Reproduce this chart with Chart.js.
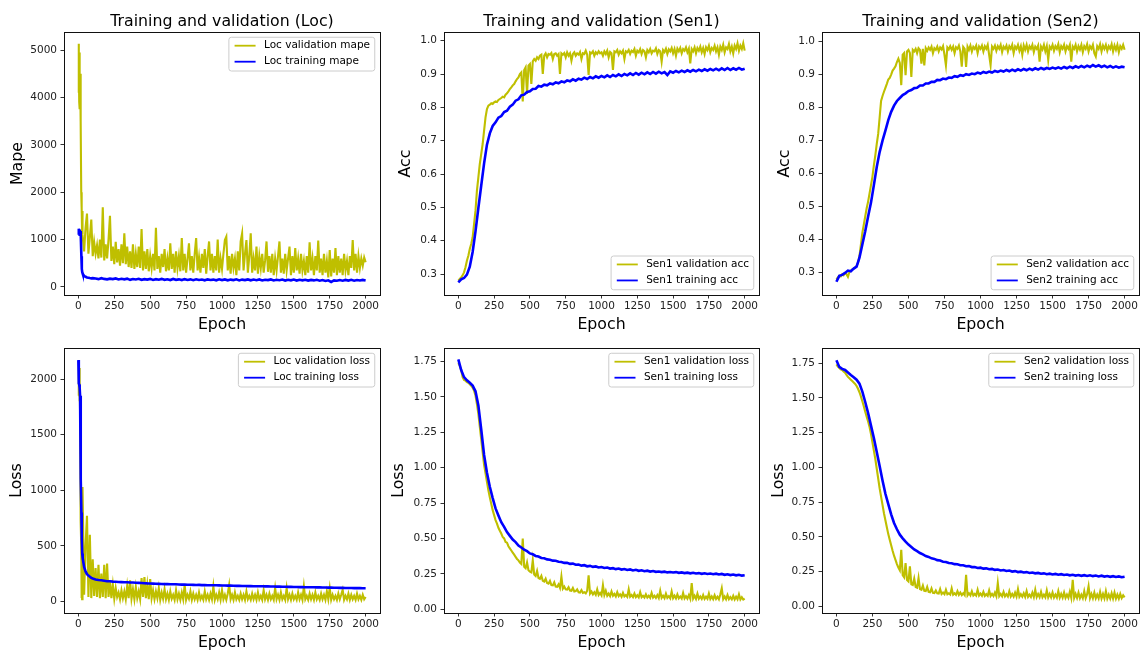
<!DOCTYPE html>
<html>
<head>
<meta charset="utf-8">
<script src="https://cdn.jsdelivr.net/npm/chart.js@4.4.0/dist/chart.umd.min.js"></script>
<style>
  html, body { margin: 0; padding: 0; background: #fff; }
  body { width: 1144px; height: 652px; position: relative; overflow: hidden; }
  canvas { position: absolute; }
</style>
</head>
<body>
<script>
// ---------- tick values ----------
const epochTicks   = [0, 250, 500, 750, 1000, 1250, 1500, 1750, 2000];
const locMapeTicks = [0, 1000, 2000, 3000, 4000, 5000];
const accTicks     = [0.3, 0.4, 0.5, 0.6, 0.7, 0.8, 0.9, 1.0];
const locLossTicks = [0, 500, 1000, 1500, 2000];
const lossTicks    = [0, 0.25, 0.5, 0.75, 1.0, 1.25, 1.5, 1.75];

// ---------- epochs at which each history was sampled ----------
function range(a, b, s) { const r = []; for (let v = a; v <= b; v += s) r.push(v); return r; }
const locValEpochs   = [0, 2, 4, 6, 8, 10, 12, 14, 16, 18, 20, 22, 24, 26, 28].concat(range(30, 2000, 10));
const locTrainEpochs = [0, 3, 6, 9, 12, 15, 18, 21, 24, 27, 30, 40, 50, 60, 70, 80, 90, 100].concat(range(120, 2000, 20));
const senValEpochs   = range(0, 2000, 10);
const senTrainEpochs = range(0, 2000, 20);

// ---------- Loc: mape ----------
const locValMape = [
  4100, 5130, 4700, 3900, 4950, 3750, 4500, 3600, 4500, 3500, 2000, 1700, 1650, 1150, 1600,
  1100, 750, 1250, 1550, 700, 1050, 1420, 650, 950, 700,
  880, 600, 1000, 620, 1680, 560, 900, 600, 1000, 1500,
  550, 850, 480, 950, 520, 800, 450, 900, 500, 1130,
  480, 850, 420, 750, 400, 900, 380, 700, 420, 850,
  400, 1220, 350, 750, 380, 800, 330, 650, 400, 700,
  350, 1250, 380, 650, 300, 700, 420, 800, 330, 600,
  350, 920, 380, 700, 300, 750, 400, 650, 330, 1030,
  350, 700, 300, 600, 920, 350, 650, 300, 700, 1030,
  350, 620, 300, 700, 400, 800, 280, 650, 960, 350,
  700, 300, 650, 350, 1000, 300, 600, 380, 700, 990,
  1060, 350, 650, 280, 700, 400, 600, 250, 750, 350,
  960, 1130, 350, 700, 990, 300, 650, 1130, 300, 600,
  350, 850, 280, 650, 400, 700, 300, 560, 960, 320,
  650, 300, 700, 250, 600, 350, 650, 960, 300, 600,
  280, 700, 350, 600, 850, 250, 650, 300, 820, 350,
  600, 280, 700, 350, 550, 250, 650, 300, 940, 350,
  600, 250, 650, 350, 980, 300, 600, 250, 700, 300,
  550, 200, 780, 220, 600, 300, 820, 250, 650, 300,
  600, 250, 700, 350, 550, 250, 650, 400, 990, 350,
  700, 300, 650, 400, 600, 450, 620, 520
];
const locTrainMape = [
  1100, 1230, 1150, 1210, 1140, 1180, 1100, 650, 380, 310, 280, 230, 215, 200, 195, 188, 182, 185,
  180, 165, 185, 170, 160, 175, 165, 180, 158, 172,
  160, 175, 150, 168, 158, 172, 150, 165, 155, 170,
  148, 165, 152, 170, 150, 162, 145, 168, 150, 160,
  145, 165, 148, 160, 142, 162, 148, 158, 140, 160,
  148, 155, 140, 160, 145, 158, 140, 155, 145, 160,
  138, 155, 145, 158, 140, 155, 142, 158, 138, 152,
  145, 158, 138, 150, 142, 155, 135, 150, 140, 155,
  135, 150, 140, 152, 135, 148, 138, 150, 132, 145,
  125, 140, 105, 138, 130, 145, 132, 148, 135, 150,
  132, 145, 135, 148, 135
];

// ---------- Loc: loss ----------
const locValLoss = [
  1850, 2160, 1950, 2100, 1800, 1950, 1700, 1500, 1000, 720, 500, 30, 450, 20, 300,
  1030, 60, 500, 770, 40, 600, 30, 380, 50, 300,
  40, 330, 30, 250, 40, 330, 30, 340, 40, 180,
  30, 150, 25, 120, 40, 80, 20, 100, 30, 90,
  20, 140, 30, 190, 25, 110, 20, 130, 30, 90,
  20, 210, 40, 220, 30, 150, 20, 200, 30, 100,
  20, 90, 30, 120, 15, 80, 25, 110, 20, 70,
  15, 90, 25, 60, 15, 100, 20, 70, 15, 80,
  20, 150, 15, 60, 25, 90, 15, 70, 20, 60,
  15, 80, 20, 50, 15, 90, 20, 60, 15, 70,
  20, 135, 15, 60, 20, 80, 15, 100, 20, 60,
  15, 70, 150, 20, 60, 15, 80, 20, 50, 15,
  70, 20, 60, 15, 90, 20, 50, 15, 70, 20,
  60, 15, 80, 20, 50, 15, 100, 20, 60, 15,
  70, 20, 50, 15, 120, 20, 60, 15, 80, 20,
  50, 15, 120, 20, 60, 15, 70, 20, 50, 15,
  80, 20, 60, 15, 135, 20, 50, 15, 70, 20,
  60, 15, 80, 20, 50, 15, 70, 20, 60, 15,
  90, 20, 120, 15, 60, 20, 50, 15, 70, 20,
  60, 105, 15, 50, 20, 70, 15, 60, 20, 50,
  15, 70, 20, 50, 15, 60, 20, 40
];
const locTrainLoss = [
  2170, 1960, 1950, 1920, 1850, 1500, 1100, 800, 560, 430, 390, 310, 270, 245, 232, 222, 212, 206,
  198, 193, 190, 186, 182, 181, 178, 177, 175, 174,
  172, 172, 170, 170, 168, 167, 166, 164, 162, 161,
  160, 159, 158, 157, 156, 156, 155, 154, 154, 152,
  151, 152, 150, 150, 149, 148, 149, 147, 147, 146,
  146, 145, 145, 144, 143, 143, 142, 142, 141, 140,
  140, 139, 139, 138, 138, 137, 137, 136, 136, 135,
  135, 134, 134, 133, 133, 132, 132, 131, 131, 130,
  130, 129, 129, 128, 128, 127, 127, 126, 126, 125,
  125, 124, 124, 123, 123, 122, 122, 121, 121, 121,
  120, 120, 120, 119, 119
];

// ---------- Sen1: accuracy ----------
const sen1ValAcc = [
  0.280, 0.285, 0.290, 0.296, 0.305, 0.320, 0.340, 0.355, 0.375, 0.390,
  0.410, 0.450, 0.490, 0.550, 0.590, 0.630, 0.660, 0.690, 0.730, 0.770,
  0.795, 0.805, 0.808, 0.812, 0.810, 0.815, 0.818, 0.816, 0.822, 0.825,
  0.828, 0.832, 0.830, 0.838, 0.842, 0.848, 0.855, 0.860, 0.866, 0.870,
  0.878, 0.885, 0.890, 0.900, 0.905, 0.818, 0.912, 0.920, 0.840, 0.925,
  0.930, 0.870, 0.938, 0.945, 0.940, 0.950, 0.945, 0.955, 0.958, 0.900,
  0.955, 0.962, 0.950, 0.960, 0.958, 0.963, 0.945, 0.960, 0.962, 0.955,
  0.960, 0.900, 0.962, 0.958, 0.963, 0.950, 0.965, 0.955, 0.962, 0.940,
  0.960, 0.965, 0.955, 0.962, 0.958, 0.966, 0.945, 0.962, 0.960, 0.970,
  0.958, 0.897, 0.965, 0.962, 0.968, 0.955, 0.965, 0.960, 0.968, 0.962,
  0.965, 0.955, 0.968, 0.960, 0.970, 0.950, 0.966, 0.962, 0.912, 0.968,
  0.965, 0.972, 0.958, 0.968, 0.962, 0.970, 0.945, 0.968, 0.965, 0.972,
  0.960, 0.970, 0.966, 0.975, 0.955, 0.970, 0.965, 0.975, 0.960, 0.972,
  0.968, 0.950, 0.972, 0.965, 0.975, 0.962, 0.970, 0.968, 0.977, 0.960,
  0.972, 0.968, 0.937, 0.972, 0.966, 0.976, 0.960, 0.974, 0.968, 0.978,
  0.962, 0.975, 0.955, 0.976, 0.968, 0.978, 0.962, 0.975, 0.970, 0.980,
  0.965, 0.976, 0.932, 0.975, 0.968, 0.980, 0.962, 0.978, 0.970, 0.982,
  0.965, 0.978, 0.960, 0.980, 0.972, 0.985, 0.965, 0.978, 0.972, 0.985,
  0.968, 0.980, 0.958, 0.982, 0.972, 0.988, 0.965, 0.980, 0.975, 0.990,
  0.968, 0.982, 0.962, 0.985, 0.975, 0.992, 0.970, 0.985, 0.975, 0.992,
  0.970
];
const sen1TrainAcc = [
  0.275, 0.284, 0.288, 0.298, 0.322, 0.366, 0.428, 0.498, 0.565, 0.632,
  0.688, 0.722, 0.744, 0.755, 0.769, 0.774, 0.786, 0.790, 0.802, 0.808,
  0.820, 0.824, 0.836, 0.838, 0.846, 0.848, 0.855, 0.856, 0.864, 0.862,
  0.868, 0.866, 0.872, 0.869, 0.875, 0.872, 0.878, 0.875, 0.881, 0.878,
  0.884, 0.880, 0.886, 0.883, 0.889, 0.885, 0.891, 0.887, 0.893, 0.889,
  0.894, 0.890, 0.896, 0.891, 0.897, 0.893, 0.899, 0.894, 0.900, 0.896,
  0.902, 0.897, 0.903, 0.898, 0.904, 0.899, 0.905, 0.900, 0.906, 0.901,
  0.907, 0.902, 0.906, 0.897, 0.908, 0.904, 0.909, 0.905, 0.910, 0.906,
  0.911, 0.907, 0.912, 0.908, 0.913, 0.909, 0.914, 0.910, 0.915, 0.911,
  0.916, 0.911, 0.917, 0.912, 0.918, 0.912, 0.917, 0.913, 0.918, 0.913,
  0.916
];

// ---------- Sen2: accuracy ----------
const sen2ValAcc = [
  0.280, 0.285, 0.290, 0.288, 0.295, 0.292, 0.298, 0.295, 0.287, 0.302,
  0.305, 0.310, 0.312, 0.315, 0.320, 0.330, 0.350, 0.385, 0.420, 0.445,
  0.470, 0.495, 0.515, 0.540, 0.565, 0.590, 0.625, 0.655, 0.690, 0.720,
  0.770, 0.820, 0.835, 0.848, 0.860, 0.872, 0.885, 0.890, 0.900, 0.912,
  0.918, 0.925, 0.938, 0.948, 0.935, 0.868, 0.960, 0.965, 0.898, 0.970,
  0.975, 0.965, 0.893, 0.975, 0.970, 0.978, 0.965, 0.980, 0.975, 0.933,
  0.978, 0.928, 0.980, 0.972, 0.982, 0.975, 0.985, 0.965, 0.980, 0.975,
  0.985, 0.970, 0.982, 0.976, 0.986, 0.960, 0.928, 0.982, 0.976, 0.986,
  0.975, 0.985, 0.965, 0.983, 0.978, 0.988, 0.970, 0.924, 0.984, 0.978,
  0.923, 0.985, 0.975, 0.988, 0.970, 0.984, 0.978, 0.988, 0.965, 0.985,
  0.978, 0.988, 0.970, 0.986, 0.978, 0.990, 0.960, 0.929, 0.985, 0.978,
  0.988, 0.972, 0.986, 0.978, 0.990, 0.968, 0.985, 0.978, 0.988, 0.970,
  0.986, 0.978, 0.990, 0.965, 0.985, 0.978, 0.990, 0.972, 0.986, 0.960,
  0.988, 0.975, 0.990, 0.970, 0.986, 0.978, 0.990, 0.968, 0.985, 0.978,
  0.988, 0.939, 0.985, 0.976, 0.990, 0.970, 0.986, 0.945, 0.985, 0.978,
  0.990, 0.972, 0.986, 0.978, 0.992, 0.968, 0.986, 0.978, 0.990, 0.970,
  0.986, 0.978, 0.990, 0.939, 0.985, 0.978, 0.990, 0.970, 0.986, 0.976,
  0.990, 0.968, 0.986, 0.978, 0.992, 0.970, 0.986, 0.978, 0.990, 0.965,
  0.955, 0.986, 0.978, 0.992, 0.970, 0.988, 0.978, 0.990, 0.972, 0.986,
  0.978, 0.992, 0.970, 0.988, 0.975, 0.990, 0.968, 0.986, 0.978, 0.990,
  0.975
];
const sen2TrainAcc = [
  0.272, 0.290, 0.293, 0.299, 0.306, 0.304, 0.312, 0.318, 0.345, 0.385,
  0.425, 0.470, 0.512, 0.565, 0.620, 0.665, 0.700, 0.730, 0.762, 0.787,
  0.806, 0.820, 0.829, 0.838, 0.843, 0.850, 0.853, 0.859, 0.860, 0.867,
  0.867, 0.873, 0.873, 0.878, 0.878, 0.884, 0.883, 0.888, 0.886, 0.891,
  0.890, 0.895, 0.893, 0.898, 0.896, 0.901, 0.899, 0.903, 0.901, 0.906,
  0.903, 0.908, 0.905, 0.909, 0.906, 0.911, 0.908, 0.912, 0.909, 0.914,
  0.910, 0.915, 0.911, 0.916, 0.912, 0.917, 0.913, 0.918, 0.914, 0.919,
  0.915, 0.920, 0.916, 0.920, 0.917, 0.921, 0.918, 0.922, 0.918, 0.923,
  0.919, 0.924, 0.920, 0.925, 0.921, 0.926, 0.922, 0.927, 0.923, 0.929,
  0.924, 0.928, 0.923, 0.927, 0.922, 0.926, 0.921, 0.925, 0.921, 0.924,
  0.922
];

// ---------- Sen1: loss ----------
const sen1ValLoss = [
  1.740, 1.720, 1.690, 1.640, 1.620, 1.615, 1.605, 1.600, 1.590, 1.580,
  1.565, 1.545, 1.510, 1.450, 1.380, 1.290, 1.200, 1.110, 1.020, 0.960,
  0.900, 0.840, 0.790, 0.745, 0.700, 0.665, 0.630, 0.605, 0.575, 0.555,
  0.535, 0.510, 0.500, 0.475, 0.470, 0.445, 0.430, 0.415, 0.400, 0.385,
  0.370, 0.355, 0.345, 0.330, 0.320, 0.500, 0.300, 0.290, 0.330, 0.275,
  0.265, 0.260, 0.345, 0.245, 0.235, 0.270, 0.220, 0.215, 0.235, 0.200,
  0.195, 0.215, 0.185, 0.180, 0.200, 0.170, 0.168, 0.190, 0.160, 0.158,
  0.175, 0.150, 0.230, 0.145, 0.160, 0.140, 0.138, 0.155, 0.132, 0.130,
  0.150, 0.125, 0.128, 0.140, 0.120, 0.118, 0.135, 0.115, 0.120, 0.112,
  0.130, 0.240, 0.110, 0.125, 0.105, 0.120, 0.102, 0.140, 0.100, 0.115,
  0.098, 0.170, 0.100, 0.130, 0.095, 0.110, 0.092, 0.125, 0.095, 0.108,
  0.090, 0.120, 0.092, 0.105, 0.088, 0.115, 0.090, 0.100, 0.087, 0.140,
  0.088, 0.100, 0.086, 0.110, 0.085, 0.098, 0.084, 0.120, 0.085, 0.095,
  0.083, 0.105, 0.082, 0.095, 0.080, 0.115, 0.082, 0.095, 0.080, 0.100,
  0.079, 0.130, 0.080, 0.095, 0.078, 0.110, 0.080, 0.092, 0.077, 0.125,
  0.078, 0.095, 0.076, 0.105, 0.077, 0.090, 0.075, 0.115, 0.076, 0.092,
  0.075, 0.100, 0.074, 0.184, 0.075, 0.095, 0.073, 0.110, 0.074, 0.090,
  0.073, 0.100, 0.072, 0.088, 0.073, 0.110, 0.072, 0.090, 0.071, 0.098,
  0.072, 0.088, 0.070, 0.105, 0.148, 0.071, 0.090, 0.070, 0.100, 0.071,
  0.085, 0.070, 0.095, 0.069, 0.088, 0.070, 0.105, 0.069, 0.085, 0.068,
  0.075
];
const sen1TrainLoss = [
  1.765, 1.690, 1.640, 1.618, 1.600, 1.580, 1.540, 1.440, 1.270, 1.090,
  0.965, 0.865, 0.785, 0.712, 0.662, 0.615, 0.582, 0.545, 0.518, 0.492,
  0.474, 0.450, 0.436, 0.420, 0.410, 0.394, 0.388, 0.376, 0.372, 0.362,
  0.360, 0.352, 0.350, 0.343, 0.342, 0.335, 0.334, 0.327, 0.328, 0.320,
  0.322, 0.314, 0.316, 0.308, 0.311, 0.303, 0.306, 0.299, 0.302, 0.295,
  0.298, 0.291, 0.294, 0.287, 0.290, 0.283, 0.287, 0.280, 0.284, 0.277,
  0.281, 0.274, 0.278, 0.271, 0.275, 0.268, 0.272, 0.266, 0.270, 0.264,
  0.266, 0.262, 0.265, 0.260, 0.263, 0.259, 0.262, 0.257, 0.260, 0.255,
  0.258, 0.253, 0.257, 0.252, 0.255, 0.250, 0.254, 0.249, 0.252, 0.247,
  0.251, 0.245, 0.249, 0.243, 0.247, 0.241, 0.245, 0.239, 0.243, 0.237,
  0.240
];

// ---------- Sen2: loss ----------
const sen2ValLoss = [
  1.740, 1.725, 1.715, 1.705, 1.700, 1.690, 1.680, 1.665, 1.650, 1.640,
  1.630, 1.620, 1.610, 1.600, 1.585, 1.565, 1.540, 1.510, 1.475, 1.440,
  1.400, 1.365, 1.330, 1.290, 1.240, 1.180, 1.120, 1.060, 0.990, 0.920,
  0.850, 0.790, 0.730, 0.670, 0.620, 0.570, 0.520, 0.480, 0.440, 0.400,
  0.365, 0.335, 0.305, 0.280, 0.260, 0.408, 0.225, 0.210, 0.312, 0.190,
  0.180, 0.288, 0.160, 0.155, 0.200, 0.140, 0.135, 0.204, 0.125, 0.120,
  0.150, 0.112, 0.110, 0.140, 0.105, 0.102, 0.130, 0.098, 0.096, 0.115,
  0.094, 0.092, 0.125, 0.090, 0.100, 0.088, 0.120, 0.087, 0.095, 0.086,
  0.130, 0.085, 0.095, 0.084, 0.110, 0.083, 0.100, 0.082, 0.095, 0.081,
  0.228, 0.080, 0.095, 0.080, 0.110, 0.079, 0.090, 0.078, 0.120, 0.078,
  0.092, 0.077, 0.105, 0.076, 0.088, 0.076, 0.115, 0.075, 0.090, 0.075,
  0.100, 0.074, 0.168, 0.074, 0.090, 0.073, 0.105, 0.073, 0.088, 0.072,
  0.110, 0.072, 0.090, 0.071, 0.100, 0.071, 0.125, 0.070, 0.088, 0.070,
  0.095, 0.069, 0.110, 0.069, 0.085, 0.068, 0.100, 0.068, 0.120, 0.067,
  0.090, 0.067, 0.105, 0.066, 0.085, 0.066, 0.115, 0.065, 0.090, 0.065,
  0.100, 0.064, 0.085, 0.064, 0.110, 0.063, 0.090, 0.063, 0.100, 0.062,
  0.085, 0.062, 0.105, 0.062, 0.192, 0.061, 0.090, 0.061, 0.100, 0.060,
  0.085, 0.060, 0.110, 0.060, 0.088, 0.145, 0.060, 0.090, 0.059, 0.100,
  0.059, 0.085, 0.058, 0.105, 0.058, 0.090, 0.058, 0.110, 0.057, 0.085,
  0.057, 0.095, 0.057, 0.100, 0.056, 0.085, 0.056, 0.090, 0.060, 0.080,
  0.065
];
const sen2TrainLoss = [
  1.770, 1.722, 1.708, 1.700, 1.682, 1.664, 1.648, 1.630, 1.602, 1.545,
  1.470, 1.390, 1.300, 1.210, 1.110, 1.010, 0.905, 0.810, 0.735, 0.662,
  0.600, 0.555, 0.516, 0.490, 0.466, 0.445, 0.428, 0.410, 0.398, 0.384,
  0.374, 0.362, 0.356, 0.346, 0.342, 0.333, 0.330, 0.322, 0.320, 0.312,
  0.311, 0.304, 0.303, 0.296, 0.296, 0.289, 0.290, 0.283, 0.284, 0.277,
  0.279, 0.272, 0.274, 0.268, 0.270, 0.263, 0.266, 0.259, 0.262, 0.255,
  0.258, 0.251, 0.254, 0.247, 0.250, 0.244, 0.247, 0.241, 0.244, 0.238,
  0.241, 0.235, 0.238, 0.232, 0.236, 0.230, 0.234, 0.228, 0.232, 0.226,
  0.230, 0.224, 0.228, 0.222, 0.226, 0.220, 0.225, 0.219, 0.224, 0.218,
  0.222, 0.216, 0.221, 0.215, 0.219, 0.213, 0.218, 0.212, 0.216, 0.210,
  0.214
];

// ---------- drawing ----------
const FONT = "'DejaVu Sans', 'Liberation Sans', sans-serif";
const VAL_COLOR = '#bfbf00';
const TRAIN_COLOR = '#0000ff';

Chart.defaults.font.family = FONT;
Chart.defaults.color = '#000';

function pts(epochs, values) { return values.map((v, i) => ({ x: epochs[i], y: v })); }

// axes frame, panel title and in-axes legend (matplotlib style)
const decor = {
  id: 'decor',
  afterDatasetsDraw(chart, args, o) {
    const { ctx, chartArea: a } = chart;
    ctx.save();
    ctx.strokeStyle = '#111';
    ctx.lineWidth = 1;
    const L = Math.floor(a.left) + 0.5, R = Math.floor(a.right) + 0.5;
    const T = Math.floor(a.top) + 0.5, B = Math.floor(a.bottom) + 0.5;
    ctx.strokeRect(L, T, R - L, B - T);

    if (o.title) {
      ctx.font = '15.75px ' + FONT;
      ctx.fillStyle = '#000';
      ctx.textAlign = 'center';
      ctx.textBaseline = 'alphabetic';
      ctx.fillText(o.title, (a.left + a.right) / 2, 26);
    }

    const fs = 10.5;
    ctx.font = fs + 'px ' + FONT;
    const items = chart.data.datasets.map(d => ({ label: d.label, color: d.borderColor }));
    const tw = Math.max(...items.map(it => ctx.measureText(it.label).width));
    const w = 5.7 + 21 + 8.4 + tw + 4.75, h = 33.75;
    const x = a.right - 5.25 - w;
    const y = o.legend === 'lower right' ? a.bottom - 5.25 - h : a.top + 5.25;
    const r = 2.5;
    ctx.beginPath();
    ctx.moveTo(x + r, y);
    ctx.lineTo(x + w - r, y); ctx.quadraticCurveTo(x + w, y, x + w, y + r);
    ctx.lineTo(x + w, y + h - r); ctx.quadraticCurveTo(x + w, y + h, x + w - r, y + h);
    ctx.lineTo(x + r, y + h); ctx.quadraticCurveTo(x, y + h, x, y + h - r);
    ctx.lineTo(x, y + r); ctx.quadraticCurveTo(x, y, x + r, y);
    ctx.closePath();
    ctx.fillStyle = 'rgba(255,255,255,0.8)';
    ctx.fill();
    ctx.strokeStyle = '#cccccc';
    ctx.lineWidth = 1;
    ctx.stroke();

    items.forEach((it, i) => {
      const cy = y + 8.45 + i * 16;
      ctx.beginPath();
      ctx.moveTo(x + 5.7, cy);
      ctx.lineTo(x + 26.7, cy);
      ctx.strokeStyle = it.color;
      ctx.lineWidth = 1.8;
      ctx.stroke();
      ctx.fillStyle = '#000';
      ctx.textAlign = 'left';
      ctx.textBaseline = 'middle';
      ctx.fillText(it.label, x + 35.1, cy);
    });
    ctx.restore();
  }
};

function panel(p) {
  const cv = document.createElement('canvas');
  cv.width = p.w; cv.height = p.h;
  cv.style.left = p.left + 'px'; cv.style.top = p.top + 'px';
  document.body.appendChild(cv);

  const areaL = p.area[0] - p.left, areaR = p.area[1] - p.left;
  const areaT = p.area[2] - p.top, areaB = p.area[3] - p.top;
  const tickFont = { family: FONT, size: 10.5 };
  const titleFont = { family: FONT, size: 15.75 };
  const grid = { drawOnChartArea: false, drawTicks: true, tickLength: 3.5, color: '#000', lineWidth: 0.8 };

  new Chart(cv, {
    type: 'line',
    data: {
      datasets: [
        { label: p.valLabel, data: pts(p.valEpochs, p.val), borderColor: VAL_COLOR, backgroundColor: VAL_COLOR,
          borderWidth: 2.1, pointRadius: 0, tension: 0, fill: false, order: 1 },
        { label: p.trainLabel, data: pts(p.trainEpochs, p.train), borderColor: TRAIN_COLOR, backgroundColor: TRAIN_COLOR,
          borderWidth: 2.6, pointRadius: 0, tension: 0, fill: false, order: 0 }
      ]
    },
    options: {
      responsive: false,
      animation: false,
      devicePixelRatio: 1,
      events: [],
      layout: { padding: { left: 0, right: p.w - areaR, top: areaT, bottom: 0 } },
      plugins: {
        legend: { display: false },
        tooltip: { enabled: false },
        title: { display: false },
        decor: { title: p.title, legend: p.legend }
      },
      scales: {
        x: {
          type: 'linear', min: -100, max: 2100,
          afterFit(s) { s.height = p.h - areaB; },
          afterBuildTicks(s) { s.ticks = epochTicks.map(v => ({ value: v })); },
          ticks: { autoSkip: false, maxRotation: 0, padding: 1.5, color: '#222', font: tickFont,
                   callback: v => String(v) },
          grid: grid,
          border: { display: false },
          title: { display: true, text: 'Epoch', color: '#000', font: titleFont,
                   padding: { top: 0, bottom: p.xTitlePad } }
        },
        y: {
          type: 'linear', min: p.yMin, max: p.yMax,
          afterFit(s) { s.width = areaL; },
          afterBuildTicks(s) { s.ticks = p.yTicks.map(v => ({ value: v })); },
          ticks: { autoSkip: false, padding: 3.5, color: '#222', font: tickFont,
                   callback: v => p.fmt(v) },
          grid: grid,
          border: { display: false },
          title: { display: true, text: p.yLabel, color: '#000', font: titleFont,
                   padding: { top: p.yTitlePad, bottom: 0 } }
        }
      }
    },
    plugins: [decor]
  });
}

const fmtInt = v => String(Math.round(v));
const fmt1 = v => v.toFixed(1);
const fmt2 = v => v.toFixed(2);

// top row
panel({ left: 0, top: 0, w: 384, h: 340, area: [64, 380, 32, 295],
  yMin: -170, yMax: 5380, yTicks: locMapeTicks, fmt: fmtInt, yLabel: 'Mape', yTitlePad: 8, xTitlePad: 6,
  title: 'Training and validation (Loc)', legend: 'upper right',
  valLabel: 'Loc validation mape', trainLabel: 'Loc training mape',
  valEpochs: locValEpochs, val: locValMape, trainEpochs: locTrainEpochs, train: locTrainMape });

panel({ left: 384, top: 0, w: 380, h: 340, area: [444, 759, 32, 295],
  yMin: 0.237, yMax: 1.026, yTicks: accTicks, fmt: fmt1, yLabel: 'Acc', yTitlePad: 12, xTitlePad: 6,
  title: 'Training and validation (Sen1)', legend: 'lower right',
  valLabel: 'Sen1 validation acc', trainLabel: 'Sen1 training acc',
  valEpochs: senValEpochs, val: sen1ValAcc, trainEpochs: senTrainEpochs, train: sen1TrainAcc });

panel({ left: 764, top: 0, w: 380, h: 340, area: [822, 1139, 32, 295],
  yMin: 0.232, yMax: 1.029, yTicks: accTicks, fmt: fmt1, yLabel: 'Acc', yTitlePad: 11, xTitlePad: 6,
  title: 'Training and validation (Sen2)', legend: 'lower right',
  valLabel: 'Sen2 validation acc', trainLabel: 'Sen2 training acc',
  valEpochs: senValEpochs, val: sen2ValAcc, trainEpochs: senTrainEpochs, train: sen2TrainAcc });

// bottom row
panel({ left: 0, top: 330, w: 384, h: 322, area: [64, 380, 348, 613],
  yMin: -104, yMax: 2279, yTicks: locLossTicks, fmt: fmtInt, yLabel: 'Loss', yTitlePad: 7.5, xTitlePad: 0,
  title: null, legend: 'upper right',
  valLabel: 'Loc validation loss', trainLabel: 'Loc training loss',
  valEpochs: locValEpochs, val: locValLoss, trainEpochs: locTrainEpochs, train: locTrainLoss });

panel({ left: 384, top: 330, w: 380, h: 322, area: [444, 759, 348, 613],
  yMin: -0.027, yMax: 1.846, yTicks: lossTicks, fmt: fmt2, yLabel: 'Loss', yTitlePad: 5.8, xTitlePad: 0,
  title: null, legend: 'upper right',
  valLabel: 'Sen1 validation loss', trainLabel: 'Sen1 training loss',
  valEpochs: senValEpochs, val: sen1ValLoss, trainEpochs: senTrainEpochs, train: sen1TrainLoss });

panel({ left: 764, top: 330, w: 380, h: 322, area: [822, 1139, 348, 613],
  yMin: -0.047, yMax: 1.858, yTicks: lossTicks, fmt: fmt2, yLabel: 'Loss', yTitlePad: 5.5, xTitlePad: 0,
  title: null, legend: 'upper right',
  valLabel: 'Sen2 validation loss', trainLabel: 'Sen2 training loss',
  valEpochs: senValEpochs, val: sen2ValLoss, trainEpochs: senTrainEpochs, train: sen2TrainLoss });
</script>
</body>
</html>
